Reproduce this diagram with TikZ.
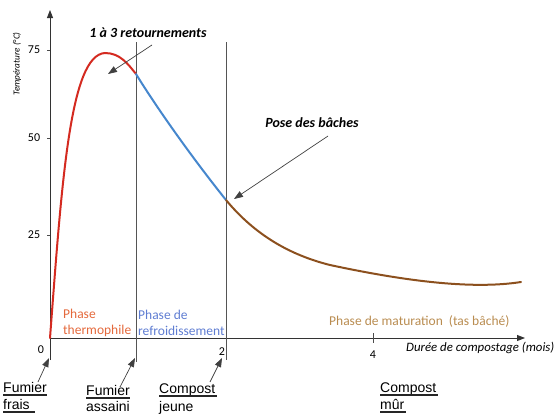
\documentclass[tikz,border=0pt]{standalone}
\usepackage{fontspec}
\setmainfont{Carlito}
\newfontfamily\arial{Liberation Sans}
\usetikzlibrary{arrows.meta}
\definecolor{cred}{RGB}{212,42,32}
\definecolor{cblue}{RGB}{70,135,205}
\definecolor{cbrown}{RGB}{140,80,30}
\definecolor{tred}{RGB}{228,105,60}
\definecolor{tblue}{RGB}{95,125,210}
\definecolor{tbrown}{RGB}{185,140,80}
\definecolor{gline}{RGB}{85,85,85}
\tikzset{
  axis/.style={line width=0.9pt, black!80, -{Triangle[length=8pt,width=6pt]}},
  vline/.style={line width=0.8pt, gline},
  pointer/.style={line width=0.7pt, black!75, -{Triangle[length=9pt,width=6.5pt]}},
  curve/.style={line width=2pt, line cap=round},
  num/.style={font=\fontsize{12}{14}\selectfont, inner sep=0pt},
  phase/.style={font=\fontsize{13.5}{16}\selectfont, align=left, inner sep=0pt, anchor=west},
  note/.style={font=\fontsize{14}{16}\selectfont\bfseries\itshape, inner sep=0pt},
  stage/.style={font=\arial\fontsize{14}{18}\selectfont, inner sep=0pt, anchor=base west},
  uline/.style={line width=1.4pt, black!85}
}
\begin{document}
\begin{tikzpicture}[x=1pt,y=-1pt]
\useasboundingbox (0,0) rectangle (556,415);
% axes
\coordinate (ybot) at (50,360);
\coordinate (ytop) at (50,10);
\coordinate (xl) at (50,338);
\coordinate (xr) at (525,338);
\draw[axis] (ybot) -- (ytop);
\draw[axis] (xl) -- (xr);
% ticks
\coordinate (t75a) at (47,50); \coordinate (t75b) at (50,50);
\coordinate (t50a) at (47,138); \coordinate (t50b) at (50,138);
\coordinate (t25a) at (47,235); \coordinate (t25b) at (50,235);
\coordinate (t4a) at (373,333); \coordinate (t4b) at (373,343);
\draw[line width=0.6pt, black!70] (t75a) -- (t75b) (t50a) -- (t50b) (t25a) -- (t25b) (t4a) -- (t4b);
% vertical lines
\coordinate (v1t) at (136,42); \coordinate (v1b) at (136,362);
\coordinate (v2t) at (226,42); \coordinate (v2b) at (226,360);
\draw[vline] (v1t) -- (v1b);
\draw[vline] (v2t) -- (v2b);
% labels of axes
\node[num] (n75) at (34,50) {75};
\node[num] (n50) at (34,138) {50};
\node[num] (n25) at (34,235) {25};
\node[num] (n0) at (41,350) {0};
\node[num] (n2) at (222,352) {2};
\node[num] (n4) at (373,355) {4};
\node[font=\fontsize{9.2}{11}\selectfont\itshape, rotate=90, inner sep=0pt] (ylab) at (17,64) {Température (°C)};
\node[font=\fontsize{12.8}{15}\selectfont\itshape, anchor=west, inner sep=0pt] (xlab) at (406,348) {Durée de compostage (mois)};
% curves
\coordinate (c0) at (50,338);
\coordinate (cpk) at (105,53);
\coordinate (c1) at (136,74);
\coordinate (c2) at (226,200);
\coordinate (c3) at (330,265);
\coordinate (c4) at (521,282);
\draw[curve, cred] (c0) .. controls (62,180) and (70,55) .. (cpk) .. controls (120,53) and (128,64) .. (c1);
\draw[curve, cblue] (c1) .. controls (155,105) and (190,155) .. (c2);
\draw[curve, cbrown] (c2) .. controls (255,235) and (290,255) .. (c3) .. controls (400,280) and (470,290) .. (c4);
% phase labels
\node[phase, tred] (ph1) at (63,323) {Phase\\thermophile};
\node[phase, tblue] (ph2) at (138,323) {Phase de\\refroidissement};
\node[phase, tbrown] (ph3) at (329,321) {Phase de maturation\ \ (tas bâché)};
% notes
\node[note] (retour) at (148,33) {1 à 3 retournements};
\coordinate (r1) at (152,45); \coordinate (r2) at (108,74);
\draw[pointer] (r1) -- (r2);
\node[note] (pose) at (312,123) {Pose des bâches};
\coordinate (p1) at (328,136); \coordinate (p2) at (234,199);
\draw[pointer] (p1) -- (p2);
% stages
\node[stage] (frais1) at (3,392) {Fumier};
\node[stage] (frais2) at (3,409) {frais};
\node[stage] (assa1) at (86,395) {Fumier};
\node[stage] (assa2) at (86,411) {assaini};
\node[stage] (jeun1) at (159,393) {Compost};
\node[stage] (jeun2) at (159,411) {jeune};
\node[stage] (mur1) at (380,392) {Compost};
\node[stage] (mur2) at (380,409) {mûr};
\draw[uline] (frais1.base west) ++(0,2.8) -- ++(44,0);
\draw[uline] (frais2.base west) ++(0,2.8) -- ++(32,0);
\draw[uline] (assa1.base west) ++(0,2.8) -- ++(44,0);
\draw[uline] (jeun1.base west) ++(0,2.8) -- ++(58,0);
\draw[uline] (mur1.base west) ++(0,2.8) -- ++(58,0);
\draw[uline] (mur2.base west) ++(0,2.8) -- ++(26,0);
\coordinate (a1s) at (38,382); \coordinate (a1e) at (49,358);
\coordinate (a2s) at (120,387); \coordinate (a2e) at (135,358);
\coordinate (a3s) at (210,382); \coordinate (a3e) at (222,358);
\draw[pointer] (a1s) -- (a1e);
\draw[pointer] (a2s) -- (a2e);
\draw[pointer] (a3s) -- (a3e);
\end{tikzpicture}
\end{document}
